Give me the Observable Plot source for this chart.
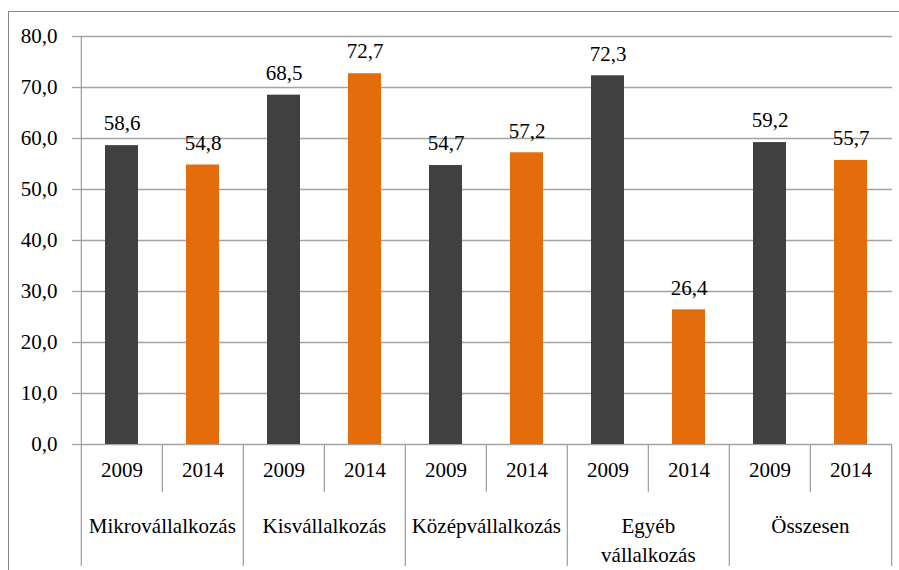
<!DOCTYPE html>
<html>
<head>
<meta charset="utf-8">
<script src="https://cdn.jsdelivr.net/npm/d3@7"></script>
<script src="https://cdn.jsdelivr.net/npm/@observablehq/plot@0.6"></script>
<style>
  html, body { margin: 0; padding: 0; background: #fff; }
  #wrap { position: relative; width: 899px; height: 570px; overflow: hidden; }
  #border { position: absolute; left: 8px; top: 11px; width: 1000px; height: 1000px;
            border-top: 1.5px solid #868686; border-left: 1.5px solid #868686; pointer-events: none; }
  svg, svg text, svg g { font-family: "Liberation Serif", serif !important; }
</style>
</head>
<body>
<div id="wrap"><div id="border"></div></div>
<script>
const categories = ["Mikrovállalkozás", "Kisvállalkozás", "Középvállalkozás", "Egyéb\nvállalkozás", "Összesen"];
const years = ["2009", "2014"];
const values2009 = [58.6, 68.5, 54.7, 72.3, 59.2];
const values2014 = [54.8, 72.7, 57.2, 26.4, 55.7];
const yTicks = [0, 10, 20, 30, 40, 50, 60, 70, 80];
const colors = ["#404040", "#E46C0A"];

const key = (c, y) => c + "|" + y;
const data = [];
categories.forEach((c, i) => {
  data.push({cat: c, year: years[0], value: values2009[i], key: key(c, years[0])});
  data.push({cat: c, year: years[1], value: values2014[i], key: key(c, years[1])});
});
const xDomain = data.map(d => d.key);

const W = 899, H = 570, mL = 79, mR = 7, mT = 36, mB = 126;
const bw = (W - mL - mR) / xDomain.length;
const frameH = H - mT - mB;
const fmt = v => v.toFixed(1).replace(".", ",");
const grid = "#a3a3a3";
const ff = "Liberation Serif";

const chart = Plot.plot({
  width: W, height: H,
  marginLeft: mL, marginRight: mR, marginTop: mT, marginBottom: mB,
  style: {fontFamily: "'Liberation Serif', serif", fontSize: "21px", color: "#000", background: "transparent"},
  x: {type: "band", domain: xDomain, padding: 0, axis: null},
  y: {domain: [0, 80], ticks: yTicks},
  color: {domain: years, range: colors},
  marks: [
    Plot.gridY(yTicks, {stroke: grid, strokeOpacity: 1, strokeWidth: 1.3}),
    Plot.axisY(yTicks, {tickSize: 7, tickPadding: 15, stroke: grid, strokeWidth: 1.3, tickFormat: fmt, fontSize: 21, fontFamily: ff, fill: "#000", label: null}),
    Plot.barY(data, {x: "key", y: "value", fill: "year", insetLeft: 24, insetRight: 24}),
    Plot.text(data, {x: "key", y: "value", text: d => fmt(d.value), dy: -22, fontSize: 21, fontFamily: ff, fill: "#000"}),
    // year labels
    Plot.text(data, {x: "key", text: "year", frameAnchor: "bottom", dy: 32, fontSize: 21, fontFamily: ff, fill: "#000"}),
    // category labels
    Plot.text(categories, {x: c => key(c, years[1]), dx: -bw / 2, text: c => c, frameAnchor: "bottom", dy: 68,
      lineAnchor: "top", lineHeight: 1.38, fontSize: 21, fontFamily: ff, fill: "#000", letterSpacing: "0.7px"}),
    // sub separators (between years)
    Plot.ruleX(categories, {x: c => key(c, years[1]), dx: -bw / 2, stroke: grid, strokeWidth: 1.3,
      insetTop: frameH, insetBottom: -48}),
    // group separators
    Plot.ruleX(categories.slice(1), {x: c => key(c, years[0]), dx: -bw / 2, stroke: grid, strokeWidth: 1.3,
      insetTop: frameH, insetBottom: -122}),
    Plot.ruleX(categories.slice(-1), {x: c => key(c, years[1]), dx: bw / 2, stroke: grid, strokeWidth: 1.3,
      insetTop: frameH, insetBottom: -122}),
    // left axis line
    Plot.ruleX(categories.slice(0, 1), {x: c => key(c, years[0]), dx: -bw / 2, stroke: grid, strokeWidth: 1.3,
      insetBottom: -122})
  ]
});
document.getElementById("wrap").appendChild(chart);
</script>
</body>
</html>
